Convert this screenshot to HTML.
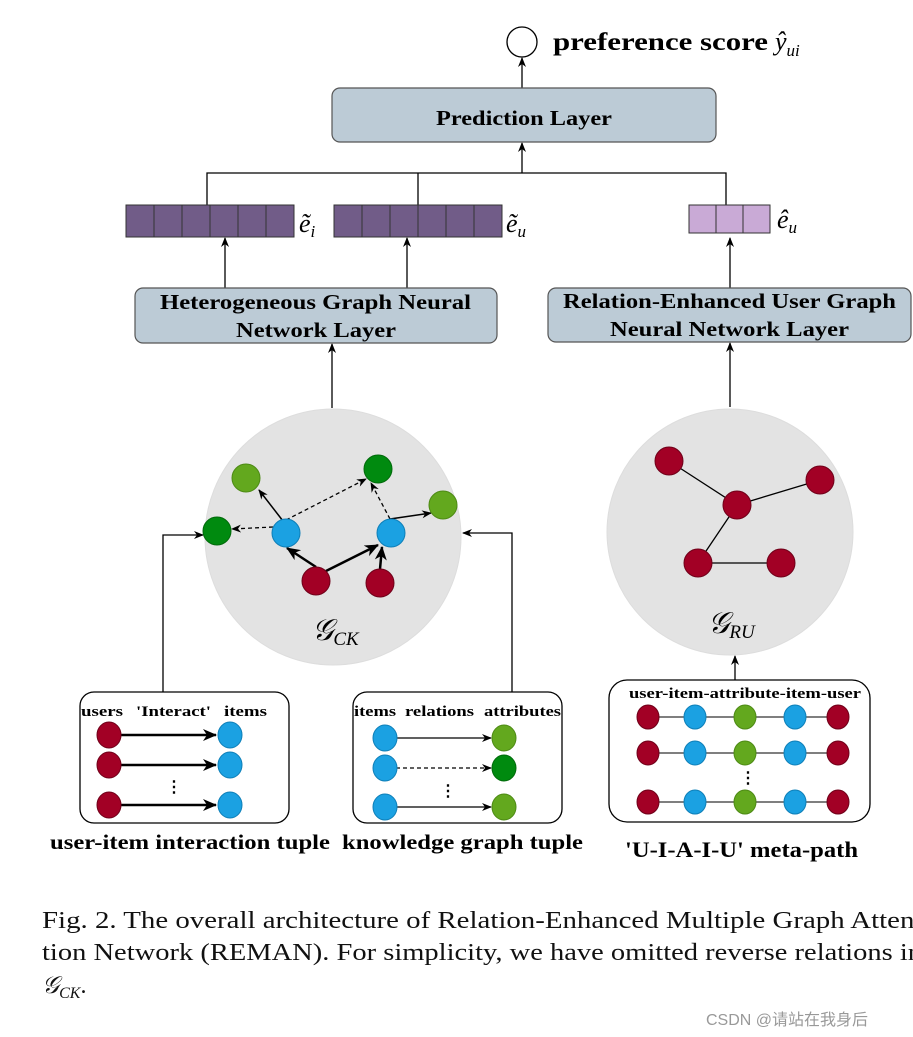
<!DOCTYPE html>
<html><head><meta charset="utf-8"><style>
html,body{margin:0;padding:0;background:#fff;width:913px;height:1037px;overflow:hidden}
svg{display:block}
.b{font-family:"Liberation Serif",serif;font-weight:bold;fill:#000}
.c{font-family:"Liberation Serif",serif;fill:#111;font-size:24px}
.m{font-family:"Liberation Serif",serif;font-style:italic;fill:#000}
</style></head><body>
<svg width="913" height="1037" viewBox="0 0 913 1037" xmlns="http://www.w3.org/2000/svg">
<defs>
<marker id="a" markerWidth="10" markerHeight="10" refX="9" refY="5" orient="auto" markerUnits="userSpaceOnUse"><path d="M0,1 L10,5 L0,9 L3,5z" fill="#000"/></marker>
<marker id="a2" markerWidth="14" markerHeight="14" refX="13" refY="7" orient="auto" markerUnits="userSpaceOnUse"><path d="M0,1 L14,7 L0,13 L4,7z" fill="#000"/></marker>
</defs>
<g stroke="#000" stroke-width="1.3" fill="none">
<circle cx="522" cy="42" r="15" fill="#fff"/>
<line x1="522" y1="88" x2="522" y2="58" marker-end="url(#a)"/>
<polyline points="207,205 207,173 726,173 726,205"/>
<line x1="418" y1="173" x2="418" y2="205"/>
<line x1="522" y1="173" x2="522" y2="143" marker-end="url(#a)"/>
<line x1="225" y1="288" x2="225" y2="238" marker-end="url(#a)"/>
<line x1="407" y1="288" x2="407" y2="238" marker-end="url(#a)"/>
<line x1="730" y1="288" x2="730" y2="238" marker-end="url(#a)"/>
<line x1="332" y1="408" x2="332" y2="344" marker-end="url(#a)"/>
<line x1="730" y1="407" x2="730" y2="343" marker-end="url(#a)"/>
<line x1="735" y1="680" x2="735" y2="656" marker-end="url(#a)"/>
<polyline points="163,692 163,535 203,535" marker-end="url(#a)"/>
<polyline points="512,692 512,533 463,533" marker-end="url(#a)"/>
</g>
<rect x="332" y="88" width="384" height="54" rx="8" fill="#bccbd6" stroke="#555" stroke-width="1.2"/>
<text class="b" x="436" y="125" font-size="21" textLength="176" lengthAdjust="spacingAndGlyphs">Prediction Layer</text>
<text class="b" x="553" y="50" font-size="25" textLength="215" lengthAdjust="spacingAndGlyphs">preference score</text>
<text class="m" x="775" y="50" font-size="26">ŷ<tspan font-size="17" dy="6">ui</tspan></text>
<g stroke="#333" stroke-width="1">
<rect x="126" y="205" width="168" height="32" fill="#715c88"/>
<rect x="334" y="205" width="168" height="32" fill="#715c88"/>
<rect x="689" y="205" width="81" height="28" fill="#c9aad6"/>
<path d="M154,205v32M182,205v32M210,205v32M238,205v32M266,205v32M362,205v32M390,205v32M418,205v32M446,205v32M474,205v32M716,205v28M743,205v28"/>
</g>
<text class="m" x="299" y="232" font-size="26">ẽ<tspan font-size="17" dy="5">i</tspan></text>
<text class="m" x="506" y="232" font-size="26">ẽ<tspan font-size="17" dy="5">u</tspan></text>
<text class="m" x="777" y="228" font-size="26">ê<tspan font-size="17" dy="5">u</tspan></text>
<rect x="135" y="288" width="362" height="55" rx="8" fill="#bccbd6" stroke="#555" stroke-width="1.2"/>
<text class="b" x="160" y="309" font-size="21" textLength="311" lengthAdjust="spacingAndGlyphs">Heterogeneous Graph Neural</text>
<text class="b" x="236" y="337" font-size="21" textLength="160" lengthAdjust="spacingAndGlyphs">Network Layer</text>
<rect x="548" y="288" width="363" height="54" rx="8" fill="#bccbd6" stroke="#555" stroke-width="1.2"/>
<text class="b" x="563" y="308" font-size="21" textLength="333" lengthAdjust="spacingAndGlyphs">Relation-Enhanced User Graph</text>
<text class="b" x="610" y="336" font-size="21" textLength="239" lengthAdjust="spacingAndGlyphs">Neural Network Layer</text>
<circle cx="333" cy="537" r="128" fill="#e3e3e3" stroke="#ddd"/>
<circle cx="730" cy="532" r="123" fill="#e3e3e3" stroke="#ddd"/>
<g stroke="#000" fill="none">
<line x1="283" y1="521" x2="259" y2="490" stroke-width="1.5" marker-end="url(#a)"/>
<line x1="273" y1="527" x2="232" y2="529" stroke-width="1.3" stroke-dasharray="4,3" marker-end="url(#a)"/>
<line x1="286" y1="520" x2="366" y2="479" stroke-width="1.3" stroke-dasharray="4,3" marker-end="url(#a)"/>
<line x1="390" y1="519" x2="371" y2="483" stroke-width="1.3" stroke-dasharray="4,3" marker-end="url(#a)"/>
<line x1="390" y1="519" x2="431" y2="513" stroke-width="1.5" marker-end="url(#a)"/>
<line x1="316" y1="567" x2="287" y2="548" stroke-width="2.5" marker-end="url(#a2)"/>
<line x1="326" y1="571" x2="378" y2="545" stroke-width="2.5" marker-end="url(#a2)"/>
<line x1="380" y1="569" x2="382" y2="547" stroke-width="2.5" marker-end="url(#a2)"/>
</g>
<g stroke-width="1">
<circle cx="246" cy="478" r="14" fill="#63a81e" stroke="#4d8a14"/>
<circle cx="378" cy="469" r="14" fill="#008a0f" stroke="#006a0a"/>
<circle cx="443" cy="505" r="14" fill="#63a81e" stroke="#4d8a14"/>
<circle cx="217" cy="531" r="14" fill="#008a0f" stroke="#006a0a"/>
<circle cx="286" cy="533" r="14" fill="#1ba1e2" stroke="#0e7fb8"/>
<circle cx="391" cy="533" r="14" fill="#1ba1e2" stroke="#0e7fb8"/>
<circle cx="316" cy="581" r="14" fill="#a20025" stroke="#6f0019"/>
<circle cx="380" cy="583" r="14" fill="#a20025" stroke="#6f0019"/>
</g>
<text class="m" x="312" y="640" font-size="30">𝒢<tspan font-size="19" dy="5">CK</tspan></text>
<path d="M669,461L737,505L820,480M737,505L698,563L781,563" stroke="#000" stroke-width="1.3" fill="none"/>
<g fill="#a20025" stroke="#6f0019">
<circle cx="669" cy="461" r="14"/><circle cx="737" cy="505" r="14"/><circle cx="820" cy="480" r="14"/><circle cx="698" cy="563" r="14"/><circle cx="781" cy="563" r="14"/>
</g>
<text class="m" x="708" y="633" font-size="30">𝒢<tspan font-size="19" dy="5">RU</tspan></text>
<rect x="80" y="692" width="209" height="131" rx="14" fill="#fff" stroke="#000" stroke-width="1.3"/>
<text class="b" x="81" y="716" font-size="15" textLength="42" lengthAdjust="spacingAndGlyphs">users</text>
<text class="b" x="136" y="716" font-size="15" textLength="75" lengthAdjust="spacingAndGlyphs">'Interact'</text>
<text class="b" x="224" y="716" font-size="15" textLength="43" lengthAdjust="spacingAndGlyphs">items</text>
<g stroke="#000" stroke-width="2.5">
<line x1="120" y1="735" x2="216" y2="735" marker-end="url(#a2)"/>
<line x1="120" y1="765" x2="216" y2="765" marker-end="url(#a2)"/>
<line x1="120" y1="805" x2="216" y2="805" marker-end="url(#a2)"/>
</g>
<text class="b" x="166" y="792" font-size="16">⋮</text>
<g stroke="#6f0019" fill="#a20025"><ellipse cx="109" cy="735" rx="12" ry="13"/><ellipse cx="109" cy="765" rx="12" ry="13"/><ellipse cx="109" cy="805" rx="12" ry="13"/></g>
<g stroke="#0e7fb8" fill="#1ba1e2"><ellipse cx="230" cy="735" rx="12" ry="13"/><ellipse cx="230" cy="765" rx="12" ry="13"/><ellipse cx="230" cy="805" rx="12" ry="13"/></g>
<rect x="353" y="692" width="209" height="131" rx="14" fill="#fff" stroke="#000" stroke-width="1.3"/>
<text class="b" x="354" y="716" font-size="15" textLength="42" lengthAdjust="spacingAndGlyphs">items</text>
<text class="b" x="405" y="716" font-size="15" textLength="69" lengthAdjust="spacingAndGlyphs">relations</text>
<text class="b" x="484" y="716" font-size="15" textLength="77" lengthAdjust="spacingAndGlyphs">attributes</text>
<g stroke="#000" stroke-width="1.3">
<line x1="396" y1="738" x2="491" y2="738" marker-end="url(#a)"/>
<line x1="396" y1="768" x2="491" y2="768" stroke-dasharray="4,3" marker-end="url(#a)"/>
<line x1="396" y1="807" x2="491" y2="807" marker-end="url(#a)"/>
</g>
<text class="b" x="440" y="796" font-size="16">⋮</text>
<g stroke="#0e7fb8" fill="#1ba1e2"><ellipse cx="385" cy="738" rx="12" ry="13"/><ellipse cx="385" cy="768" rx="12" ry="13"/><ellipse cx="385" cy="807" rx="12" ry="13"/></g>
<ellipse cx="504" cy="738" rx="12" ry="13" fill="#63a81e" stroke="#4d8a14"/>
<ellipse cx="504" cy="768" rx="12" ry="13" fill="#008a0f" stroke="#006a0a"/>
<ellipse cx="504" cy="807" rx="12" ry="13" fill="#63a81e" stroke="#4d8a14"/>
<rect x="609" y="680" width="261" height="142" rx="18" fill="#fff" stroke="#000" stroke-width="1.3"/>
<text class="b" x="629" y="698" font-size="15" textLength="232" lengthAdjust="spacingAndGlyphs">user-item-attribute-item-user</text>
<path d="M648,717H838M648,753H838M648,802H838" stroke="#555" stroke-width="1.5"/>
<text class="b" x="740" y="783" font-size="16">⋮</text>
<g fill="#a20025" stroke="#6f0019"><ellipse cx="648" cy="717" rx="11" ry="12"/><ellipse cx="838" cy="717" rx="11" ry="12"/><ellipse cx="648" cy="753" rx="11" ry="12"/><ellipse cx="838" cy="753" rx="11" ry="12"/><ellipse cx="648" cy="802" rx="11" ry="12"/><ellipse cx="838" cy="802" rx="11" ry="12"/></g>
<g fill="#1ba1e2" stroke="#0e7fb8"><ellipse cx="695" cy="717" rx="11" ry="12"/><ellipse cx="795" cy="717" rx="11" ry="12"/><ellipse cx="695" cy="753" rx="11" ry="12"/><ellipse cx="795" cy="753" rx="11" ry="12"/><ellipse cx="695" cy="802" rx="11" ry="12"/><ellipse cx="795" cy="802" rx="11" ry="12"/></g>
<g fill="#63a81e" stroke="#4d8a14"><ellipse cx="745" cy="717" rx="11" ry="12"/><ellipse cx="745" cy="753" rx="11" ry="12"/><ellipse cx="745" cy="802" rx="11" ry="12"/></g>
<text class="b" x="50" y="849" font-size="21" textLength="280" lengthAdjust="spacingAndGlyphs">user-item interaction tuple</text>
<text class="b" x="342" y="849" font-size="21" textLength="241" lengthAdjust="spacingAndGlyphs">knowledge graph tuple</text>
<text class="b" x="625" y="857" font-size="22" textLength="233" lengthAdjust="spacingAndGlyphs">'U-I-A-I-U' meta-path</text>
<text class="c" x="42" y="928" textLength="882" lengthAdjust="spacingAndGlyphs">Fig. 2.  The overall architecture of Relation-Enhanced Multiple Graph Atten-</text>
<text class="c" x="42" y="960" textLength="880" lengthAdjust="spacingAndGlyphs">tion Network (REMAN). For simplicity, we have omitted reverse relations in</text>
<text class="c" x="42" y="993"><tspan font-style="italic">𝒢</tspan><tspan font-style="italic" font-size="16" dy="5">CK</tspan><tspan dy="-5">.</tspan></text>
<text x="706" y="1025" font-family="'Liberation Sans','Noto Sans CJK SC',sans-serif" font-size="16" fill="#999">CSDN @请站在我身后</text>
</svg>
</body></html>
